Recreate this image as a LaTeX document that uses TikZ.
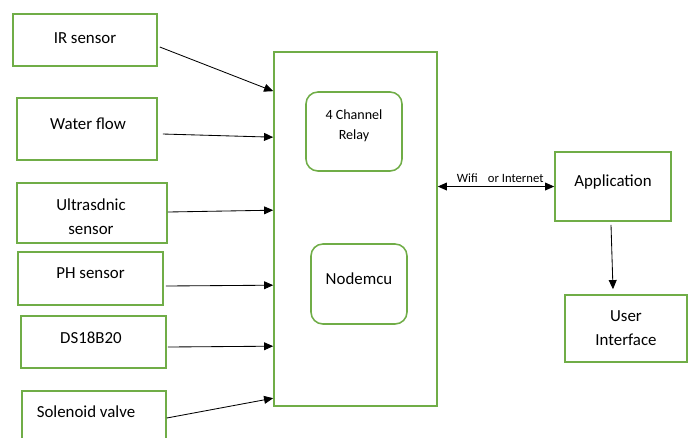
\documentclass[tikz,border=0pt]{standalone}
\usepackage{fontspec}
\setmainfont{Carlito}
\usetikzlibrary{calc,arrows.meta}
\definecolor{iotgreen}{RGB}{112,173,71}
\tikzset{
  iot block/.style={rectangle, draw=iotgreen, line width=1.1pt, inner sep=0pt},
  iot module/.style={iot block, rounded corners=8.5pt},
  iot label/.style={align=center, inner sep=0pt, font=\fontsize{12}{17}\selectfont},
  iot link/.style={-{Triangle[length=6.5pt,width=5.6pt]}, line width=0.6pt}
}

\begin{document}
\begin{tikzpicture}[x=0.025cm, y=-0.025cm]
    \fill [white] (0,0) rectangle (691,437);
    \useasboundingbox (0,0) rectangle (691,437);

    % Sensors
    \node [iot block, minimum width=3.6cm, minimum height=1.3cm] (IR) at (85,40) {};
    \node [iot label] (IRText) at ($(IR)+(0,-1.5)$) {IR sensor};
    \node [iot block, minimum width=3.5cm, minimum height=1.55cm] (Flow) at (87,129) {};
    \node [iot label] (FlowText) at ($(Flow)+(1,-5.5)$) {Water flow};
    \node [iot block, minimum width=3.75cm, minimum height=1.5cm] (Ultra) at (92,213) {};
    \node [iot label] (UltraText) at ($(Ultra)+(-1,4)$) {Ultrasdnic\\ sensor};
    \node [iot block, minimum width=3.625cm, minimum height=1.325cm] (PH) at (90.5,278.5) {};
    \node [iot label] (PHText) at ($(PH)+(0,-5)$) {PH sensor};
    \node [iot block, minimum width=3.625cm, minimum height=1.3cm] (Temp) at (93.5,342) {};
    \node [iot label] (TempText) at ($(Temp)+(-2.5,-4)$) {DS18B20};
    \node [iot block, minimum width=3.6cm, minimum height=1.35cm] (Valve) at (94,418) {};
    \node [iot label] (ValveText) at ($(Valve)+(-8,-6.5)$) {Solenoid valve};

    % Controller
    \node [iot block, minimum width=4.075cm, minimum height=8.85cm] (Ctrl) at (355.5,229) {};
    \node [iot module, minimum width=2.4cm, minimum height=1.975cm] (Relay) at (354,131.5) {};
    \node [iot label, font=\fontsize{10}{14}\selectfont] (RelayText) at ($(Relay)+(0,-5.5)$) {4 Channel\\ Relay};
    \node [iot module, minimum width=2.4cm, minimum height=2cm] (MCU) at (359,284) {};
    \node [iot label] (MCUText) at ($(MCU)+(0,-5)$) {Nodemcu};

    % Application side
    \node [iot block, minimum width=2.9cm, minimum height=1.725cm] (App) at (613,186.5) {};
    \node [iot label] (AppText) at ($(App)+(0,-5)$) {Application};
    \node [iot block, minimum width=3.05cm, minimum height=1.675cm] (UI) at (626,328.5) {};
    \node [iot label] (UIText) at (UI) {User\\ Interface};

    % Sensor links
    \draw [iot link] ($(IR.east)+(2,7)$) -- ($(Ctrl.north west)+(0,40)$);
    \draw [iot link] ($(Flow.east)+(5,5)$) -- ($(Ctrl.north west)+(0,86)$);
    \draw [iot link] ($(Ultra.east)+(0,-1)$) -- ($(Ctrl.north west)+(0,159)$);
    \draw [iot link] ($(PH.east)+(2,7.5)$) -- ($(Ctrl.north west)+(0,234)$);
    \draw [iot link] ($(Temp.east)+(1,5)$) -- ($(Ctrl.north west)+(0,295)$);
    \draw [iot link] (Valve.east) -- ($(Ctrl.north west)+(0,347)$);

    % Network link
    \draw [iot link, {Triangle[length=6.5pt,width=5.6pt]}-{Triangle[length=6.5pt,width=5.6pt]}]
        (App.west -| Ctrl.east) -- node [above=2.2pt, xshift=3pt, inner sep=0pt, font=\fontsize{9}{11}\selectfont] (Net) {Wifi\hspace{0.8em}or Internet} (App.west);
    \draw [iot link] ($(App.south)+(-2,3)$) -- ($(UI.north)+(-13,-5)$);
\end{tikzpicture}
\end{document}
